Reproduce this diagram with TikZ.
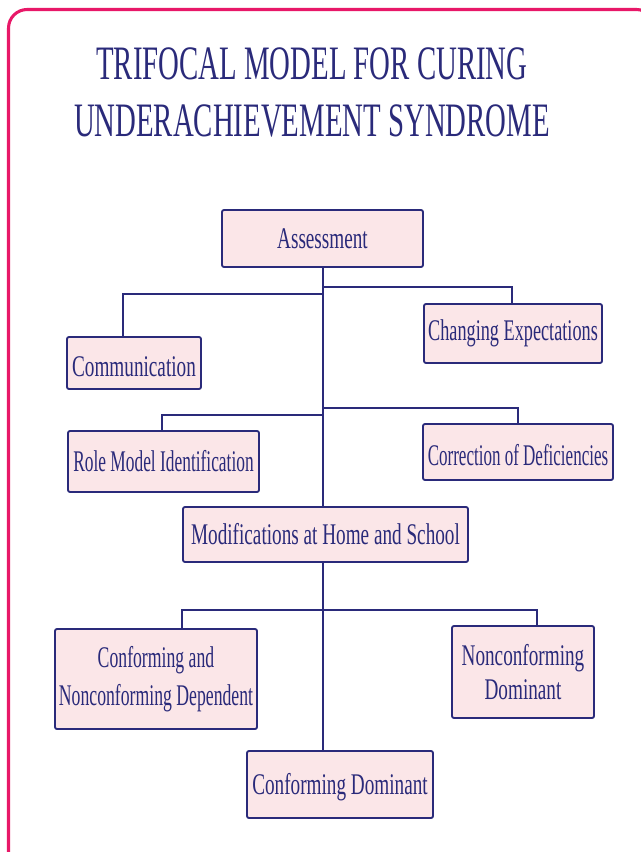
\documentclass[tikz,border=0pt]{standalone}
\usepackage{fontspec}
\setmainfont{Liberation Serif}[FakeStretch=0.64]
\newfontfamily\titlefont{Liberation Serif}[FakeStretch=0.6]
\newfontfamily\fontB{Liberation Serif}[FakeStretch=0.608]
\newfontfamily\fontC{Liberation Serif}[FakeStretch=0.579]
\newfontfamily\fontD{Liberation Serif}[FakeStretch=0.567]
\newfontfamily\fontE{Liberation Serif}[FakeStretch=0.59]
\definecolor{navy}{RGB}{42,42,122}
\definecolor{boxfill}{RGB}{251,230,232}
\definecolor{framepink}{RGB}{232,24,104}
\begin{document}
\begin{tikzpicture}[x=0.75pt,y=-0.75pt,
  box/.style={draw=navy,fill=boxfill,line width=1.4pt,rounded corners=1.5pt,inner sep=0pt,
    text=navy,font=\fontsize{22.5}{27}\selectfont,align=center},
  link/.style={draw=navy,line width=1.3pt},
  titletext/.style={text=navy,font=\titlefont\fontsize{36}{43}\selectfont,inner sep=0pt,anchor=base}]
\useasboundingbox (0,0) rectangle (640,852);
\draw[framepink,line width=2.3pt,rounded corners=14pt] (8.5,9.5) rectangle (655,870);
\node[titletext] (t1) at (312,80) {TRIFOCAL MODEL FOR CURING};
\node[titletext] (t2) at (312,137) {UNDERACHIEVEMENT SYNDROME};

\node[box,minimum width=150.75pt,minimum height=42.75pt] (as) at (322.5,238.5) {Assessment};
\node[box,minimum width=100.5pt,minimum height=39pt,text height=20.5pt,text depth=0pt] (cm) at (134,363) {Communication};
\node[box,minimum width=133.5pt,minimum height=44.25pt,font=\fontB\fontsize{22.5}{27}\selectfont] (ce) at (513,333.5) {Changing Expectations};
\node[box,minimum width=143.25pt,minimum height=45.75pt,font=\fontC\fontsize{22.5}{27}\selectfont] (rm) at (163.5,461.5) {Role Model Identification};
\node[box,minimum width=142.5pt,minimum height=42pt,text height=19.8pt,text depth=0pt,font=\fontD\fontsize{22.5}{27}\selectfont] (cd) at (518,452) {Correction of Deficiencies};
\node[box,minimum width=213.75pt,minimum height=41.25pt] (mh) at (325.5,534.5) {Modifications at Home and School};
\node[box,minimum width=151.5pt,minimum height=75pt,font=\fontE\fontsize{22.5}{28.5}\selectfont] (cn) at (156,679) {Conforming and\\Nonconforming Dependent};
\node[box,minimum width=106.5pt,minimum height=69pt,font=\fontsize{22.5}{25.5}\selectfont] (nd) at (523,672) {Nonconforming\\Dominant};
\node[box,minimum width=139.5pt,minimum height=50.25pt,text height=19.8pt,text depth=4.9pt] (cdm) at (340,784.5) {Conforming Dominant};

\coordinate (sp) at (323.3,0);
\coordinate (bcm) at (122.7,294.3);
\coordinate (bce) at (511.7,287.3);
\coordinate (brm) at (161.7,415);
\coordinate (bcd) at (517.7,407.7);
\coordinate (bcn) at (181.7,610);
\coordinate (bnd) at (537.3,610);

\draw[link] (sp |- as.south) -- (sp |- mh.north);
\draw[link] (sp |- mh.south) -- (sp |- cdm.north);
\draw[link] (sp |- bcm) -- (bcm) -- (bcm |- cm.north);
\draw[link] (sp |- bce) -- (bce) -- (bce |- ce.north);
\draw[link] (sp |- brm) -- (brm) -- (brm |- rm.north);
\draw[link] (sp |- bcd) -- (bcd) -- (bcd |- cd.north);
\draw[link] (bcn |- cn.north) -- (bcn) -- (bnd) -- (bnd |- nd.north);
\end{tikzpicture}
\end{document}
